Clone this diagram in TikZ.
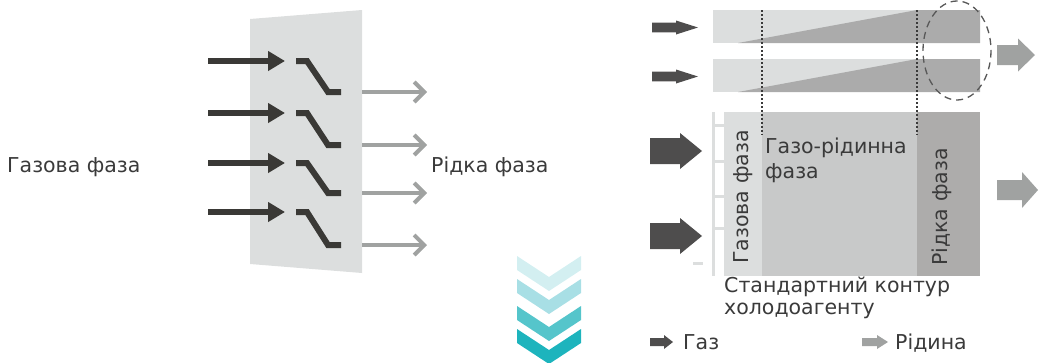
\documentclass[tikz,border=0pt]{standalone}
\usepackage{fontspec}
\setmainfont{DejaVu Sans}
\usetikzlibrary{arrows.meta}
\definecolor{ink}{HTML}{3A3A3A}
\definecolor{panel}{HTML}{DCDEDE}
\definecolor{mixc}{HTML}{C8C9C9}
\definecolor{liq}{HTML}{ABABAB}
\definecolor{liqdark}{HTML}{ADACAB}
\definecolor{gasarrow}{HTML}{3A3936}
\definecolor{gasblock}{HTML}{4E4D4D}
\definecolor{liqarrow}{HTML}{A0A2A1}
\definecolor{chA}{HTML}{D3EFF1}
\definecolor{chB}{HTML}{A8DFE5}
\definecolor{chC}{HTML}{55C5CB}
\definecolor{chD}{HTML}{1DB4BD}
\tikzset{
  lbl/.style={inner sep=0pt, text=ink, font=\fontsize{20.5}{25}\selectfont},
  gasline/.style={draw=gasarrow, line width=6pt, -{Triangle[length=17pt,width=19pt]}},
  liqline/.style={draw=liqarrow, line width=4pt, -{Straight Barb[length=10pt,width=20pt]}},
  valve/.style={draw=gasarrow, line width=6pt, miter limit=4},
  divider/.style={draw=ink, line width=1.2pt, dash pattern=on 2pt off 2pt},
  rail/.style={draw=panel, line width=3pt},
}
% block arrow: tail x, tip x, centre y, shaft half height, head half height, head start x
\newcommand\blockarrow[7]{%
  \fill[#1] (#2,#4-#5) -- (#7,#4-#5) -- (#7,#4-#6) -- (#3,#4) -- (#7,#4+#6) -- (#7,#4+#5) -- (#2,#4+#5) -- cycle;}
\begin{document}
\begin{tikzpicture}[x=1pt,y=-1pt]
\useasboundingbox (0,0) rectangle (1061,362);

% ---- separator plate with valves
\fill[panel] (250,19) -- (362,10) -- (362,273) -- (250,264) -- cycle;
\foreach \i/\t/\b in {1/61/92,2/113/145,3/163/193,4/212/245}{
  \coordinate (gin\i) at (208,\t);
  \coordinate (gout\i) at (285,\t);
  \coordinate (lin\i) at (362,\b);
  \coordinate (lout\i) at (427,\b);
  \draw[gasline] (gin\i) -- (gout\i);
  \draw[valve] (296,\t) -- (307,\t) -- (328,\b) -- (341,\b);
  \draw[liqline] (lin\i) -- (lout\i);
}
\node[lbl, anchor=west] (gasL) at (7,167) {Газова фаза};
\node[lbl, anchor=west] (liqL) at (431,167) {Рідка фаза};

% ---- two tubes with growing liquid fraction
\foreach \o in {0,49}{
  \fill[panel] (713,10+\o) rectangle (980,43+\o);
  \fill[liq] (738,43+\o) -- (917,10+\o) -- (980,10+\o) -- (980,43+\o) -- cycle;
}
\blockarrow{gasblock}{652}{698}{27.5}{4.8}{7}{676}
\blockarrow{gasblock}{652}{698}{76.5}{4.8}{7}{676}
\blockarrow{liqarrow}{997}{1035}{55}{10}{16.5}{1018}
\draw[draw=ink!85, line width=1.3pt, dash pattern=on 7pt off 5pt] (957,50.5) ellipse [x radius=34, y radius=49.5];

% ---- standard circuit
\fill[panel] (724,112) rectangle (762,276);
\fill[mixc] (762,112) rectangle (917,276);
\fill[liqdark] (917,112) rectangle (980,276);
\draw[divider] (762,10) -- (762,135);
\draw[divider] (917,10) -- (917,135);
\draw[rail] (713,112) -- (713,276);
\foreach \y in {125,161,196,228}{\draw[rail] (713,\y) -- (724,\y);}
\draw[rail] (693,263) -- (703,263);
\blockarrow{gasblock}{650}{702}{151}{13}{18}{680}
\blockarrow{gasblock}{650}{702}{236}{13}{18}{680}
\blockarrow{liqarrow}{997}{1038}{190}{10}{18}{1022}

\node[lbl, rotate=90] (gasV) at (743,197) {Газова фаза};
\node[lbl, anchor=north west, align=left] (mixL) at (765,138) {Газо-рідинна\\фаза};
\node[lbl, rotate=90] (liqV) at (942,207) {Рідка фаза};
\node[lbl, anchor=north west, align=left, font=\fontsize{20.5}{22}\selectfont] (std) at (724,277) {Стандартний контур\\холодоагенту};

% ---- legend
\blockarrow{gasblock}{650}{673}{342}{4}{7}{664}
\node[lbl, anchor=base west] (gasK) at (683,349) {Газ};
\blockarrow{liqarrow}{862}{888}{342}{4}{7}{877}
\node[lbl, anchor=base west] (liqK) at (895,349) {Рідина};

% ---- downward chevrons
\foreach \y/\c in {256/chA,279/chB,306/chC,329/chD}{
  \fill[\c] (517,\y) -- ++(32,21) -- ++(32,-21) -- ++(0,14) -- ++(-32,21) -- ++(-32,-21) -- cycle;
}
\end{tikzpicture}
\end{document}
